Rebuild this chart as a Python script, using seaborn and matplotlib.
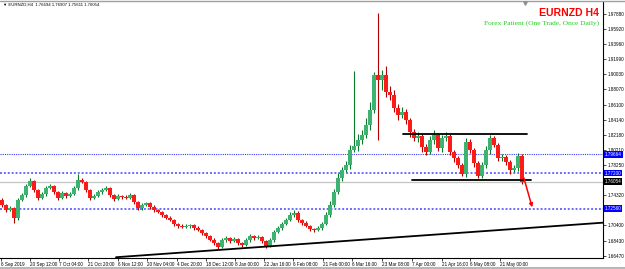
import numpy as np
import pandas as pd
import matplotlib
matplotlib.use("Agg")
import matplotlib.pyplot as plt
import seaborn as sns
from matplotlib.lines import Line2D
from matplotlib.transforms import blended_transform_factory

# ---------------- data ----------------
header_text = "\u25BC EURNZD,H4  1.76694 1.76907 1.75611 1.76054"
title = "EURNZD H4"
subtitle = "Forex Patient (One Trade, Once Daily)"

first_open = 1.7370
closes = [
    1.7305, 1.7240, 1.7266, 1.7136, 1.7370, 1.7435, 1.7552, 1.7617, 1.7500, 1.7396,
    1.7448, 1.7526, 1.7552, 1.7474, 1.7396, 1.7461, 1.7422, 1.7448, 1.7526, 1.7630,
    1.7604, 1.7500, 1.7396, 1.7422, 1.7474, 1.7500, 1.7526, 1.7435, 1.7383, 1.7422,
    1.7409, 1.7396, 1.7435, 1.7344, 1.7266, 1.7305, 1.7331, 1.7279, 1.7240, 1.7214,
    1.7175, 1.7136, 1.7110, 1.7058, 1.7032, 1.7019, 1.7032, 1.7045, 1.7006, 1.6980,
    1.6941, 1.6902, 1.6850, 1.6811, 1.6759, 1.6850, 1.6876, 1.6837, 1.6863, 1.6811,
    1.6785, 1.6850, 1.6902, 1.6876, 1.6889, 1.6837, 1.6772, 1.6850, 1.6954, 1.7006,
    1.7058, 1.7110, 1.7175, 1.7201, 1.7110, 1.7071, 1.7032, 1.6993, 1.6980, 1.7006,
    1.7058, 1.7175, 1.7305, 1.7474, 1.7656, 1.7760, 1.7825, 1.8020, 1.8072, 1.8150,
    1.8215, 1.8345, 1.8540, 1.8995, 1.8930, 1.8995, 1.8774, 1.8735, 1.8566, 1.8475,
    1.8514, 1.8410, 1.8254, 1.8176, 1.8202, 1.8059, 1.7994, 1.8150, 1.8215, 1.8046,
    1.8176, 1.8202, 1.7994, 1.7916, 1.7825, 1.7708, 1.8124, 1.8020, 1.7851, 1.7682,
    1.7825, 1.8020, 1.8176, 1.8085, 1.7916, 1.7929, 1.7864, 1.7760, 1.7786, 1.7942,
    1.76054,
]
up_wick_pips = [
    20, 15, 25, 10, 30, 20, 25, 35, 15, 10,
    20, 25, 30, 15, 10, 20, 15, 25, 30, 80,
    20, 15, 10, 20, 25, 20, 30, 15, 10, 20,
    15, 20, 25, 10, 15, 20, 15, 10, 20, 15,
    10, 15, 20, 10, 15, 20, 25, 15, 10, 20,
    15, 10, 15, 20, 10, 25, 20, 15, 20, 10,
    15, 25, 20, 15, 20, 10, 15, 25, 20, 30,
    25, 30, 35, 40, 20, 15, 20, 15, 10, 20,
    25, 40, 50, 45, 60, 40, 50, 60, 975, 80,
    70, 90, 100, 40, 806, 60, 120, 80, 60, 50,
    70, 40, 30, 40, 50, 30, 40, 50, 60, 30,
    40, 50, 30, 25, 30, 20, 50, 40, 30, 25,
    40, 50, 40, 30, 25, 35, 30, 20, 40, 45,
    20,
]
dn_wick_pips = [
    25, 30, 15, 70, 20, 15, 20, 10, 25, 20,
    15, 20, 10, 25, 30, 15, 20, 10, 15, 20,
    15, 25, 20, 15, 10, 20, 15, 25, 20, 15,
    20, 10, 15, 25, 30, 20, 15, 25, 20, 15,
    20, 15, 10, 25, 20, 15, 10, 20, 25, 15,
    20, 25, 15, 20, 20, 15, 25, 20, 15, 25,
    30, 15, 20, 25, 15, 20, 25, 15, 20, 15,
    20, 15, 10, 20, 25, 20, 15, 20, 25, 15,
    20, 15, 30, 25, 20, 40, 30, 50, 20, 60,
    50, 40, 60, 40, 780, 130, 60, 70, 50, 60,
    40, 50, 60, 45, 50, 60, 40, 30, 50, 40,
    50, 40, 45, 50, 40, 30, 35, 40, 50, 30,
    30, 40, 50, 30, 45, 35, 40, 50, 30, 40,
    30,
]

date_labels = ["6 Sep 2019", "20 Sep 12:00", "7 Oct 04:00", "21 Oct 20:00",
               "6 Nov 12:00", "20 Nov 04:00", "4 Dec 20:00", "18 Dec 12:00",
               "8 Jan 00:00", "22 Jan 16:00", "6 Feb 08:00", "21 Feb 00:00",
               "6 Mar 16:00", "23 Mar 08:00", "7 Apr 00:00", "21 Apr 16:00",
               "6 May 08:00", "21 May 00:00"]
date_bars = [-0.25, 7, 14.25, 21.5, 29, 36.25, 43.75, 51, 58.25, 65.5, 72.75,
             80.25, 87.5, 95, 102.5, 110, 117, 124.5]

# visible price-scale labels (those hidden under the price boxes are omitted)
price_ticks = [1.9788, 1.9592, 1.9396, 1.9199, 1.9003, 1.8807, 1.8610, 1.8414,
               1.8218, 1.8021, 1.7825, 1.7432, 1.7040, 1.6843, 1.6647]

blue_levels = [1.79664, 1.77200, 1.72560]
bid_price = 1.76054
resistance_bars = [100.25, 131.25]
resistance_price = [1.8232, 1.8232]
support_bars = [102.5, 132.25]
support_price = [1.7634, 1.7634]
trend_bars = [28.5, 151]
trend_price = [1.6626, 1.7078]
arrow_bars = [130.25, 132.75]
arrow_price = [1.7695, 1.7240]

# ---------------- figure ----------------
sns.set_theme(style="white")
plt.rcParams["font.family"] = ["Liberation Sans", "DejaVu Sans"]

W, H = 625, 269
fig = plt.figure(figsize=(W / 100, H / 100), dpi=100)
ax = fig.add_axes([0, (H - 258) / H, 603 / W, 256 / H])
ax.set_facecolor("white")

n = len(closes)
opens = [first_open] + closes[:-1]
df = pd.DataFrame({"bar": np.arange(n), "open": opens, "close": closes})
df["high"] = df[["open", "close"]].max(axis=1) + np.array(up_wick_pips) * 1e-4
df["low"] = df[["open", "close"]].min(axis=1) - np.array(dn_wick_pips) * 1e-4
df["bull"] = df["close"] >= df["open"]

# reference lines
ax.axhline(bid_price, color="#c4c4c4", lw=0.9, zorder=1)
for i, v in enumerate(blue_levels):
    ax.axhline(v, color="#3a3aff", ls=(0, (1, 1)), lw=0.8 if i == 0 else 1.4,
               alpha=1 if i == 0 else 0.75, zorder=1)

bull_body, bull_wick = "#3cb371", "#0a7a2a"
bear_body, bear_wick = "#ff1a1a", "#b00000"
wick_colors = np.where(df["bull"], bull_wick, bear_wick)
ax.vlines(df["bar"], df["low"], df["high"], colors=wick_colors, lw=0.8, zorder=2)
body_bottom = df[["open", "close"]].min(axis=1)
body_h = (df["close"] - df["open"]).abs().clip(lower=0.0005)
ax.bar(df["bar"], body_h, bottom=body_bottom, width=0.8,
       color=np.where(df["bull"], bull_body, bear_body), lw=0, zorder=3)

# support / resistance / trend lines (seaborn)
sns.lineplot(x=resistance_bars, y=resistance_price, ax=ax, color="black", lw=1.3, zorder=4)
sns.lineplot(x=support_bars, y=support_price, ax=ax, color="black", lw=1.3, zorder=4)
sns.lineplot(x=trend_bars, y=trend_price, ax=ax, color="black", lw=1.3, zorder=4)

ax.annotate("", xy=(arrow_bars[1], arrow_price[1]), xytext=(arrow_bars[0], arrow_price[0]),
            arrowprops=dict(arrowstyle="-|>", color="#ff0000", lw=1.1,
                            mutation_scale=5), zorder=5)

ax.set_xlim(-0.5, 150.25)
ax.set_ylim(1.6616, 1.9944)

for s in ["left", "top"]:
    ax.spines[s].set_visible(False)
for s in ["right", "bottom"]:
    ax.spines[s].set_color("black")
    ax.spines[s].set_linewidth(0.8)

ax.yaxis.tick_right()
ax.set_yticks(price_ticks)
ax.set_yticklabels([f"{p:.5f}" for p in price_ticks])
ax.tick_params(axis="y", direction="out", length=2.5, width=0.5, pad=1,
               labelsize=3.3, colors="black", right=True, left=False)
ax.set_xticks(date_bars)
ax.set_xticklabels(date_labels)
ax.tick_params(axis="x", direction="out", length=2, width=0.5, pad=0.8,
               labelsize=3.3, colors="black", bottom=True)
for lbl in ax.get_xticklabels():
    lbl.set_ha("left")
ax.set_xlabel("")
ax.set_ylabel("")
ax.grid(False)
if ax.get_legend():
    ax.get_legend().remove()

# price boxes on the right
tr = blended_transform_factory(ax.transAxes, ax.transData)
for v in blue_levels:
    ax.text(1.003, v, f"{v:.5f}", transform=tr, ha="left", va="center", fontsize=3.3,
            color="white", clip_on=False, zorder=6,
            bbox=dict(boxstyle="square,pad=0.2", fc="#0000ff", ec="none"))
ax.text(1.003, bid_price, f"{bid_price:.5f}", transform=tr, ha="left", va="center",
        fontsize=3.3, color="white", clip_on=False, zorder=6,
        bbox=dict(boxstyle="square,pad=0.2", fc="black", ec="none"))

# titles
fig.text(599 / W, 1 - 8 / H, title, ha="right", va="top", fontsize=7.6,
         fontweight="bold", color="#ff0000", family="Liberation Sans")
fig.text(599 / W, 1 - 20.5 / H, subtitle, ha="right", va="top", fontsize=5.3,
         color="#22cc22", family="Liberation Serif")
fig.text(3 / W, 1 - 3 / H, header_text, ha="left", va="top", fontsize=3.1,
         color="black", family=["Liberation Sans", "DejaVu Sans"])

# window borders
fig.add_artist(Line2D([0, 1], [1 - 0.8 / H] * 2, color="#a0a0a0", lw=1.0))
fig.add_artist(Line2D([0, 1], [1.5 / H] * 2, color="#b8b8b8", lw=1.5))
fig.add_artist(Line2D([525 / W], [1 - 3 / H], marker="v", markersize=2.5,
                      color="#909090", lw=0))

fig.savefig("out.png", dpi=100)
